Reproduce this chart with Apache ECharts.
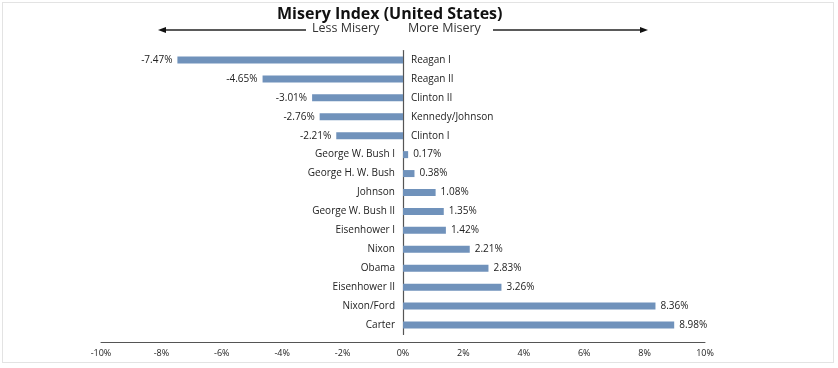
<!DOCTYPE html>
<html><head><meta charset="utf-8">
<script src="https://cdn.jsdelivr.net/npm/echarts@6/dist/echarts.min.js"></script>
<style>
body{margin:0;background:#fff}
#c{width:838px;height:368px}
#f{position:absolute;left:2px;top:2px;width:830px;height:359px;border:1px solid #e3e3e3;pointer-events:none}
</style>
</head><body><div id="c"></div><div id="f"></div>
<script>
const categories = ['Reagan I','Reagan II','Clinton II','Kennedy/Johnson','Clinton I','George W. Bush I','George H. W. Bush','Johnson','George W. Bush II','Eisenhower I','Nixon','Obama','Eisenhower II','Nixon/Ford','Carter'];
const values = [-7.47,-4.65,-3.01,-2.76,-2.21,0.17,0.38,1.08,1.35,1.42,2.21,2.83,3.26,8.36,8.98];
const xMin = -10, xMax = 10, xInterval = 2;
const titleText = 'Misery Index (United States)';
const leftNote = 'Less Misery', rightNote = 'More Misery';

const FONT = '"Open Sans", "Noto Sans", sans-serif';
const chart = echarts.init(document.getElementById('c'));
const arrowLine = {stroke:'#5a5a5a', lineWidth:2};
chart.setOption({
  animation:false,
  title:{text:titleText,left:272,top:1,textStyle:{fontFamily:FONT,fontSize:16,fontWeight:'bold',color:'#111'}},
  grid:{left:101,right:133,top:50.5,bottom:33.5,containLabel:false},
  xAxis:{type:'value',min:xMin,max:xMax,interval:xInterval,offset:8,
    axisLine:{show:true,lineStyle:{color:'#555',width:1}},axisTick:{show:false},splitLine:{show:false},
    axisLabel:{formatter:v=>v+'%',fontFamily:FONT,fontSize:9,color:'#222',margin:6}},
  yAxis:{type:'category',data:categories,inverse:true,
    axisLine:{show:true,onZero:true,lineStyle:{color:'#555',width:1.2}},axisTick:{show:false},axisLabel:{show:false}},
  graphic:[
    {type:'text',left:312,top:22,style:{text:leftNote,font:'12.5px '+FONT,fill:'#333'}},
    {type:'text',left:408,top:22,style:{text:rightNote,font:'12.5px '+FONT,fill:'#333'}},
    {type:'line',shape:{x1:164,y1:30,x2:306,y2:30},style:arrowLine},
    {type:'polygon',shape:{points:[[158,30],[166,27],[166,33]]},style:{fill:'#111'}},
    {type:'line',shape:{x1:493,y1:30,x2:641,y2:30},style:arrowLine},
    {type:'polygon',shape:{points:[[648,30],[640,27],[640,33]]},style:{fill:'#111'}}
  ],
  series:[
    {type:'bar',data:values.map(v=>({value:v,label:{position:v<0?'left':'right'}})),barWidth:7,itemStyle:{color:'#7092bb'},
      label:{show:true,fontFamily:FONT,fontSize:10,color:'#222',distance:5,
        formatter:p=>p.value.toFixed(2)+'%'}},
    {type:'bar',barGap:'-100%',barWidth:7,silent:true,itemStyle:{color:'transparent'},
      data:categories.map((c,i)=>({value:0,label:{position:values[i]<0?'right':'left'}})),
      label:{show:true,fontFamily:FONT,fontSize:10,color:'#222',distance:8,formatter:p=>categories[p.dataIndex]}}
  ]
});
</script>
</body></html>
